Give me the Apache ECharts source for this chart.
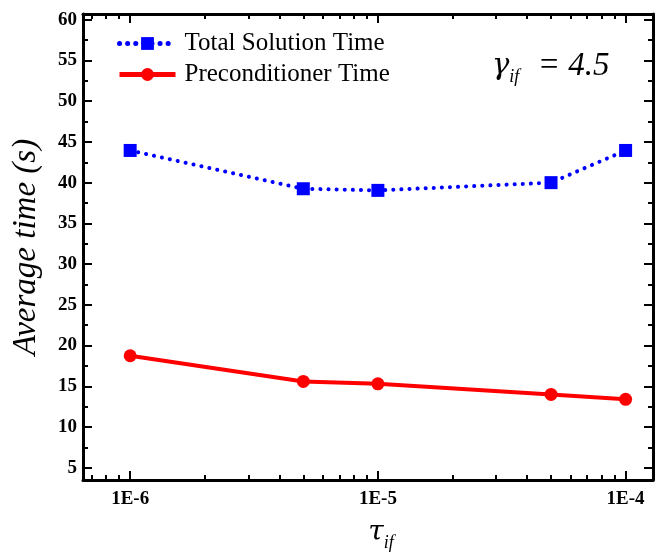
<!DOCTYPE html>
<html><head><meta charset="utf-8">
<script src="https://cdn.jsdelivr.net/npm/echarts@6/dist/echarts.min.js"></script>
<style>html,body{margin:0;padding:0;background:#fff}#c{width:659px;height:556px}</style>
</head><body><div id="c"></div>
<script>
const tauValues = [1e-6, 5e-6, 1e-5, 5e-5, 1e-4];
const totalSolutionTime = [43.95, 39.25, 39.05, 40.0, 43.95];
const preconditionerTime = [18.75, 15.6, 15.3, 14.0, 13.4];
const xTickValues = [1e-6, 1e-5, 1e-4];
const xTickLabels = ['1E-6', '1E-5', '1E-4'];
const xMinorTicks = [7e-7, 8e-7, 9e-7, 2e-6, 3e-6, 4e-6, 5e-6, 6e-6, 7e-6, 8e-6, 9e-6,
  2e-5, 3e-5, 4e-5, 5e-5, 6e-5, 7e-5, 8e-5, 9e-5];
const yTickValues = [5, 10, 15, 20, 25, 30, 35, 40, 45, 50, 55, 60];
const yMinorTicks = [7.5, 12.5, 17.5, 22.5, 27.5, 32.5, 37.5, 42.5, 47.5, 52.5, 57.5];
const seriesNames = ['Total Solution Time', 'Preconditioner Time'];

const chart = echarts.init(document.getElementById('c'), null, {renderer: 'canvas'});
const XMIN = 6.45e-7, XMAX = 1.29e-4, YMIN = 3.5, YMAX = 60.7;
const SERIF = 'Liberation Serif';
const GREEK = 'DejaVu Serif';
const lineStyleAxis = {show: true, lineStyle: {color: '#000', width: 3}};
function xLabelFmt(v) {
  let best = 0, bd = Infinity;
  xTickValues.forEach((t, i) => { const d = Math.abs(Math.log10(v) - Math.log10(t)); if (d < bd) { bd = d; best = i; } });
  return xTickLabels[best];
}
function xAxis(pos, labels, ticks, len, line) {
  return {
    type: 'log', logBase: 10, min: XMIN, max: XMAX, position: pos, gridIndex: 0,
    axisLine: line ? lineStyleAxis : {show: false},
    axisTick: {show: true, inside: true, length: len, lineStyle: {color: '#000', width: 2}, customValues: ticks},
    axisLabel: labels ? {show: true, customValues: xTickValues, formatter: xLabelFmt, margin: 10,
      fontFamily: SERIF, fontWeight: 'bold', fontSize: 19, color: '#000'} : {show: false},
    splitLine: {show: false}, minorTick: {show: false}
  };
}
function yAxis(pos, labels, ticks, len, line) {
  return {
    type: 'value', min: YMIN, max: YMAX, position: pos, gridIndex: 0,
    axisLine: line ? lineStyleAxis : {show: false},
    axisTick: {show: true, inside: true, length: len, lineStyle: {color: '#000', width: 2}, customValues: ticks},
    axisLabel: labels ? {show: true, customValues: yTickValues, margin: 6,
      fontFamily: SERIF, fontWeight: 'bold', fontSize: 19, color: '#000'} : {show: false},
    splitLine: {show: false}
  };
}
const xa0 = xAxis('bottom', true, xTickValues, 9, true);
xa0.name = '{t|τ}{s|if}';
xa0.nameLocation = 'middle';
xa0.nameGap = 34;
xa0.nameTextStyle = {padding: [0, 0, 0, 26], rich: {
  t: {fontFamily: GREEK, fontStyle: 'italic', fontSize: 28, color: '#000'},
  s: {fontFamily: SERIF, fontStyle: 'italic', fontSize: 18, color: '#000', verticalAlign: 'bottom', padding: [20, 0, 0, 0]}
}};
const ya0 = yAxis('left', true, yTickValues, 9, true);
ya0.name = 'Average time (s)';
ya0.nameLocation = 'middle';
ya0.nameGap = 40;
ya0.nameTextStyle = {fontFamily: SERIF, fontStyle: 'italic', fontSize: 33, color: '#000'};

const option = {
  backgroundColor: '#fff',
  animation: false,
  grid: {left: 83, top: 14, right: 6, bottom: 76, outerBoundsMode: 'none', containLabel: false},
  title: {
    left: 492, top: 46, padding: 0,
    text: '{g|γ}{s|if}{e|  = 4.5}',
    textStyle: {fontWeight: 'normal', rich: {
      g: {fontFamily: GREEK, fontStyle: 'italic', fontWeight: 'normal', fontSize: 29, color: '#000'},
      s: {fontFamily: SERIF, fontStyle: 'italic', fontWeight: 'normal', fontSize: 18, color: '#000', padding: [22, 2, 0, 0]},
      e: {fontFamily: SERIF, fontStyle: 'italic', fontWeight: 'normal', fontSize: 33, color: '#000'}
    }}
  },
  legend: {
    orient: 'vertical', left: 117, top: 31, padding: 0, itemGap: 6, itemWidth: 56, itemHeight: 16,
    data: seriesNames,
    lineStyle: {width: 5},
    textStyle: {fontFamily: SERIF, fontSize: 25, color: '#000', padding: [0, 0, 0, 4]}
  },
  xAxis: [xa0, xAxis('bottom', false, xMinorTicks, 5, false), xAxis('top', false, xTickValues, 9, true), xAxis('top', false, xMinorTicks, 5, false)],
  yAxis: [ya0, yAxis('left', false, yMinorTicks, 5, false), yAxis('right', false, yTickValues, 9, true), yAxis('right', false, yMinorTicks, 5, false)],
  series: [
    {
      name: seriesNames[0], type: 'line', xAxisIndex: 0, yAxisIndex: 0,
      data: tauValues.map((t, i) => [t, totalSolutionTime[i]]),
      symbol: 'rect', symbolSize: 13, color: '#0000ff',
      lineStyle: {color: '#0000ff', width: 4, type: [0.1, 8], cap: 'round'},
      itemStyle: {color: '#0000ff'}
    },
    {
      name: seriesNames[1], type: 'line', xAxisIndex: 0, yAxisIndex: 0,
      data: tauValues.map((t, i) => [t, preconditionerTime[i]]),
      symbol: 'circle', symbolSize: 13, color: '#ff0000',
      lineStyle: {color: '#ff0000', width: 4},
      itemStyle: {color: '#ff0000'}
    }
  ]
};
chart.setOption(option);
</script></body></html>
